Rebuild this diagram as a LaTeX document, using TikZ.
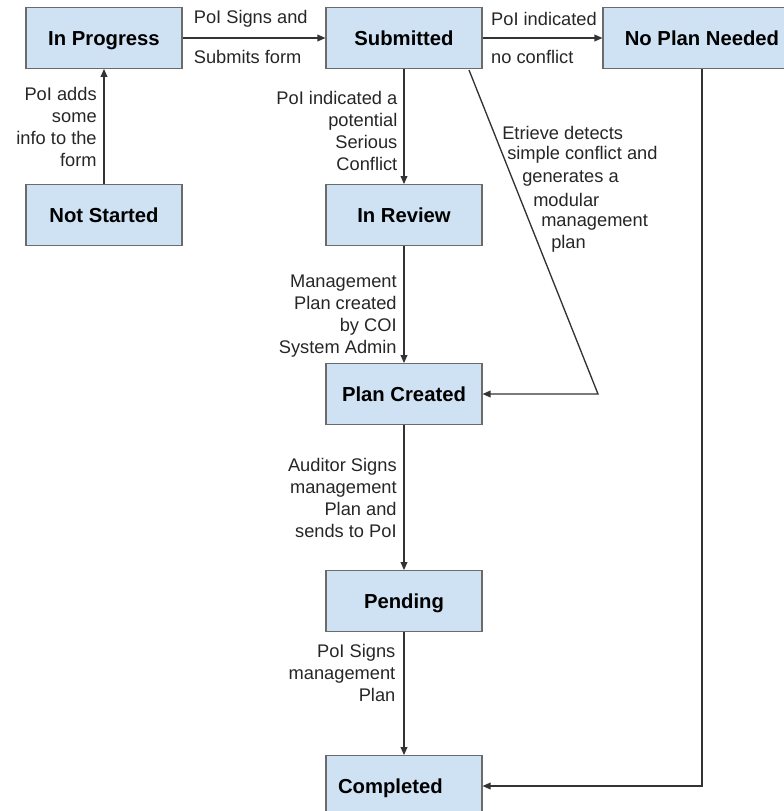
\documentclass[tikz,border=0pt]{standalone}
\usepackage{fontspec}
\setmainfont{Liberation Sans}
\usetikzlibrary{arrows.meta}
\definecolor{boxfill}{HTML}{CFE2F3}
\definecolor{boxline}{HTML}{6B6B6B}
\definecolor{arrowline}{HTML}{333333}
\begin{document}
\begin{tikzpicture}[x=0.75pt,y=-0.75pt,
  state/.style={draw=boxline, fill=boxfill, line width=0.8pt, minimum width=117pt, minimum height=45.5pt, inner sep=0pt, text height=10.9pt, text depth=0pt, font=\fontsize{15.2}{18}\selectfont\bfseries},
  flow/.style={draw=arrowline, line width=1pt, -{Triangle[length=6pt,width=5pt]}},
  lbl/.style={font=\fontsize{13.7}{16.5}\selectfont, text=black!85, inner sep=0pt}]
\useasboundingbox (0,0) rectangle (784,811);
\node[state] (inprogress) at (104,38) {In Progress};
\node[state] (notstarted) at (104,215) {Not Started};
\node[state] (submitted) at (404,38) {Submitted};
\node[state, minimum width=148.5pt] (noplan) at (702,38) {No Plan Needed};
\node[state] (inreview) at (404,215) {In Review};
\node[state] (plancreated) at (404,394) {Plan Created};
\node[state] (pending) at (404,601) {Pending};
\node[state, text width=99pt, inner xsep=9pt, align=left] (completed) at (404,786) {Completed};
\draw[flow] (notstarted) -- (inprogress) node[lbl, midway, left=5pt, align=right] (lbladds) {PoI adds\\some\\info to the\\form};
\draw[flow] (inprogress) -- (submitted)
  node[lbl, pos=0, anchor=west, xshift=8pt, yshift=14.5pt] (lblsigns) {PoI Signs and}
  node[lbl, pos=0, anchor=west, xshift=8pt, yshift=-14.5pt] (lblsubmits) {Submits form};
\draw[flow] (submitted) -- (noplan)
  node[lbl, pos=0, anchor=west, xshift=6pt, yshift=14.5pt] (lblindicated) {PoI indicated}
  node[lbl, pos=0, anchor=west, xshift=6pt, yshift=-14.5pt] (lblnoconflict) {no conflict};
\draw[flow] (submitted) -- (inreview) node[lbl, pos=0.54, left=4.5pt, align=right] (lblserious) {PoI indicated a\\potential\\Serious\\Conflict};
\draw[flow] (inreview) -- (plancreated) node[lbl, pos=0.6, left=5pt, align=right] (lblcreated) {Management\\Plan created\\by COI\\System Admin};
\draw[flow] (plancreated) -- (pending) node[lbl, midway, left=5pt, align=right] (lblauditor) {Auditor Signs\\management\\Plan and\\sends to PoI};
\draw[flow] (pending) -- (completed) node[lbl, pos=0.33, left=6pt, align=right] (lblpoisigns) {PoI Signs\\management\\Plan};
\coordinate (etstart) at (469,70);
\coordinate (etbend) at (598,394);
\draw[flow] (etstart) -- (etbend) -- (plancreated);
\foreach \txt/\xx/\yy [count=\k] in {Etrieve detects/502/133, simple conflict and/507/155, generates a/522/178, modular/533/200, management/541/222, plan/551/244}
  \node[lbl, anchor=west] (etrieve\k) at (\xx,\yy) {\txt};
\draw[flow] (noplan) |- (completed);
\end{tikzpicture}
\end{document}
